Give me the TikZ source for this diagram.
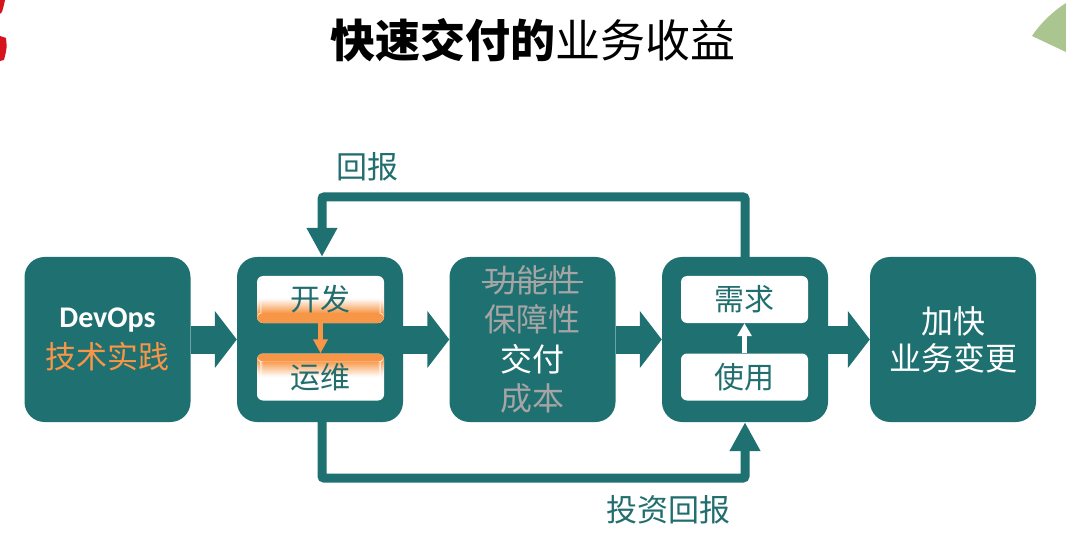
\documentclass[tikz,border=0pt]{standalone}
\usepackage{fontspec}
\setmainfont{Carlito}
\newfontfamily\cjk{Noto Sans CJK SC}
\newfontfamily\calib{Carlito}
\usetikzlibrary{arrows.meta,calc}
\definecolor{tealA}{RGB}{31,112,112}
\definecolor{tealT}{RGB}{34,110,110}
\definecolor{orangeA}{RGB}{247,150,70}
\definecolor{grayT}{RGB}{165,165,165}
\definecolor{greenA}{RGB}{170,197,143}
\definecolor{redA}{RGB}{214,20,30}
\tikzset{
  bigbox/.style={fill=tealA, rounded corners=20pt, minimum width=166pt, minimum height=165pt, inner sep=0pt, align=center, text=white, font=\cjk\fontsize{31}{39}\selectfont},
  inbox/.style={fill=white, rounded corners=6pt, minimum width=127pt, minimum height=47pt, inner sep=0pt, text=tealT, font=\cjk\fontsize{30}{36}\selectfont},
  blockarrow/.style={draw=tealA, line width=28pt, -{Triangle[length=22pt,width=56pt]}},
  fb/.style={draw=tealA, line width=9pt, rounded corners=2pt, -{Triangle[length=29pt,width=29pt]}},
  lbl/.style={text=tealT, inner sep=0pt, font=\cjk\fontsize{31}{36}\selectfont},
}
\begin{document}
\begin{tikzpicture}[x=1pt,y=-1pt]
\useasboundingbox (0,0) rectangle (1066,548);
% corner decorations
\fill[redA] (0,0) -- (5,0) .. controls (4,5) .. (2,12) -- (0,14) -- cycle;
\fill[redA] (0,36) -- (6,38) .. controls (7,48) .. (4,60) -- (0,61) -- cycle;
\fill[greenA] (1066,3) .. controls (1052,12) and (1040,24) .. (1032,36) -- (1066,52) -- cycle;
% title
\node[inner sep=0pt, font=\cjk\fontsize{45}{50}\selectfont] (title) at (533,40) {{\bfseries 快速交付的}业务收益};
% main boxes
\node[bigbox] (b1) at (107.5,339.5) {{\calib\bfseries\fontsize{30}{36}\selectfont DevOps}\\[2pt]{\color{orangeA}技术实践}};
\node[bigbox] (b2) at (320,339.5) {};
\node[bigbox, font=\cjk\fontsize{32}{39.5}\selectfont] (b3) at (532.5,339.5) {{\color{grayT}\makebox[0pt][l]{\hspace{-0.08em}\rule[0.3em]{3.16em}{1.6pt}}功能性}\\{\color{grayT}保障性}\\交付\\{\color{grayT}成本}};
\node[bigbox] (b4) at (745,339.5) {};
\node[bigbox, font=\cjk\fontsize{32}{37}\selectfont] (b5) at (953,339.5) {加快\\业务变更};
% inner boxes
\node[inbox, path picture={
  \fill[orangeA] (path picture bounding box.south west) rectangle ($(path picture bounding box.south east)+(0,-10)$);
  \foreach \k in {0,...,13} {
    \pgfmathtruncatemacro\pc{100-(\k+1)*100/15}
    \fill[orangeA!\pc!white] ($(path picture bounding box.south west)+(0,-10-\k)$) rectangle ($(path picture bounding box.south east)+(0,-11.3-\k)$);
  }
}] (kf) at (320.5,299.5) {开发};
\node[inbox, path picture={
  \fill[orangeA] (path picture bounding box.north west) rectangle ($(path picture bounding box.north east)+(0,8)$);
  \foreach \k in {0,...,14} {
    \pgfmathtruncatemacro\pc{100-(\k+1)*100/16}
    \fill[orangeA!\pc!white] ($(path picture bounding box.north west)+(0,8+\k)$) rectangle ($(path picture bounding box.north east)+(0,9.3+\k)$);
  }
}] (yw) at (320.5,377) {运维};
\node[inbox] (xq) at (744.5,299.5) {需求};
\node[inbox] (sy) at (744.5,377) {使用};
% small arrows
\draw[orangeA, line width=4.5pt, -{Triangle[length=14pt,width=14pt]}] (kf.south) -- (yw.north);
\draw[white, line width=4.5pt, -{Triangle[length=13pt,width=14pt]}] (sy.north) -- (xq.south);
% block arrows
\draw[blockarrow] (b1.east) -- (b2.west);
\draw[blockarrow] (b2.east) -- (b3.west);
\draw[blockarrow] (b3.east) -- (b4.west);
\draw[blockarrow] (b4.east) -- (b5.west);
% feedback loops
\coordinate (topy) at (0,197);
\coordinate (boty) at (0,478);
\draw[fb] (b4.north) -- (b4.north |- topy) -| ($(b2.north)+(2,0)$);
\draw[fb] ($(b2.south)+(2,0)$) -- ($(b2.south |- boty)+(2,0)$) -| (b4.south);
\node[lbl] (hb) at (367,167) {回报};
\node[lbl] (tzhb) at (668,510) {投资回报};
\end{tikzpicture}
\end{document}
